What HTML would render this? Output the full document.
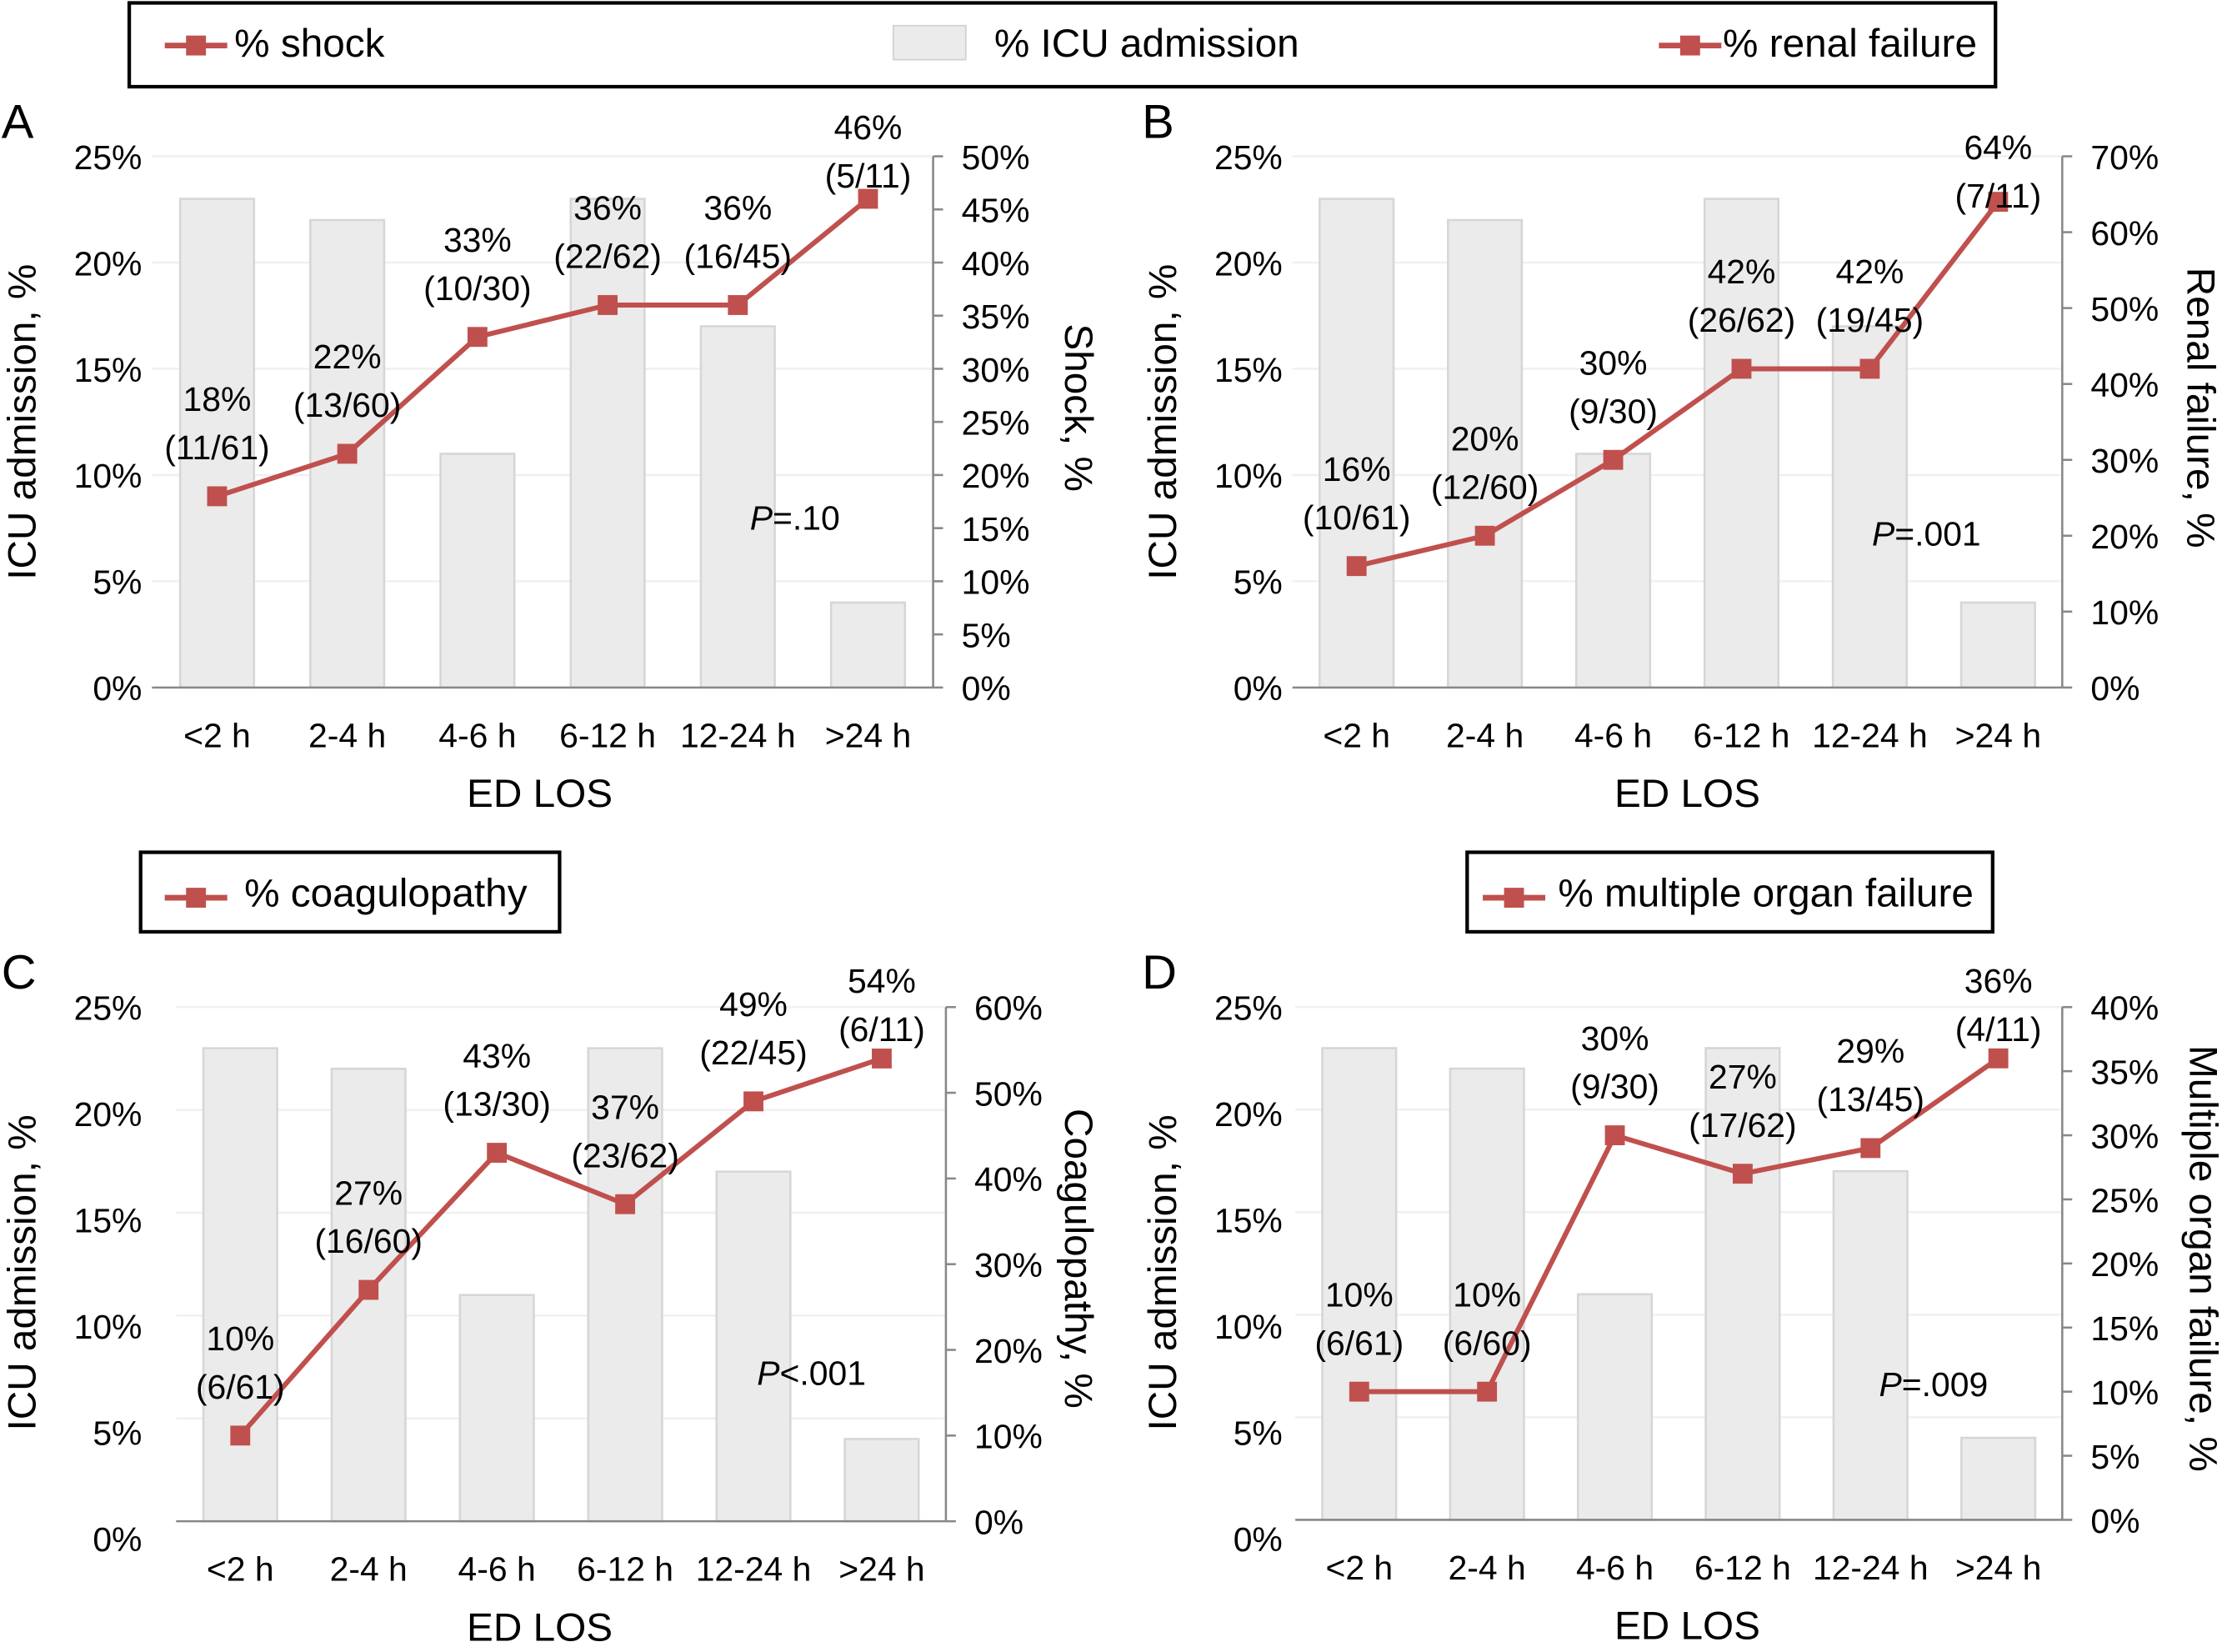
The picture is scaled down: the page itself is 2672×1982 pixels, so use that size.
<!DOCTYPE html>
<html><head><meta charset="utf-8">
<style>
html,body{margin:0;padding:0;background:#fff;}
svg{display:block;font-family:"Liberation Sans",Arial,sans-serif;}
</style></head>
<body>
<svg id="chart" xmlns="http://www.w3.org/2000/svg" width="2672" height="1982" viewBox="0 0 1568 1163">
<g>
<rect x="91" y="2" width="1314" height="59" fill="none" stroke="#000" stroke-width="2.5"/>
<line x1="116" y1="32" x2="160" y2="32" stroke="#c0504d" stroke-width="4"/><rect x="131" y="25" width="14" height="14" fill="#c0504d"/>
<text x="165" y="40" font-size="28">% shock</text>
<rect x="629" y="18" width="51" height="24" fill="#ebebeb" stroke="#d0d0d0"/>
<text x="700" y="40" font-size="28">% ICU admission</text>
<line x1="1168" y1="32" x2="1212" y2="32" stroke="#c0504d" stroke-width="4"/><rect x="1183" y="25" width="14" height="14" fill="#c0504d"/>
<text x="1213" y="40" font-size="28">% renal failure</text>
</g>
<g>
<rect x="99" y="600" width="295" height="56" fill="none" stroke="#000" stroke-width="2.5"/>
<line x1="116" y1="632" x2="160" y2="632" stroke="#c0504d" stroke-width="4"/><rect x="131" y="625" width="14" height="14" fill="#c0504d"/>
<text x="172" y="638" font-size="28">% coagulopathy</text>
</g>
<g>
<rect x="1033" y="600" width="370" height="56" fill="none" stroke="#000" stroke-width="2.5"/>
<line x1="1044" y1="632" x2="1088" y2="632" stroke="#c0504d" stroke-width="4"/><rect x="1059" y="625" width="14" height="14" fill="#c0504d"/>
<text x="1097" y="638" font-size="28">% multiple organ failure</text>
</g>
</svg>
<script>
const categories = ["<2 h","2-4 h","4-6 h","6-12 h","12-24 h",">24 h"];
const icuValues = [23,22,11,23,17,4];
const shockValues = [18,22,33,36,36,46];
const shockFractions = ["(11/61)","(13/60)","(10/30)","(22/62)","(16/45)","(5/11)"];
const renalValues = [16,20,30,42,42,64];
const renalFractions = ["(10/61)","(12/60)","(9/30)","(26/62)","(19/45)","(7/11)"];
const coagValues = [10,27,43,37,49,54];
const coagFractions = ["(6/61)","(16/60)","(13/30)","(23/62)","(22/45)","(6/11)"];
const mofValues = [10,10,30,27,29,36];
const mofFractions = ["(6/61)","(6/60)","(9/30)","(17/62)","(13/45)","(4/11)"];
const leftTicks = [0,5,10,15,20,25];

const NS="http://www.w3.org/2000/svg";
const svg=document.getElementById('chart');
function mk(tag,attrs,parent,text){const e=document.createElementNS(NS,tag);for(const k in attrs)e.setAttribute(k,attrs[k]);if(text!==undefined)e.textContent=text;(parent||svg).appendChild(e);return e;}

const panels=[
 {id:'a',letter:'A',x0:107,x1:657,yb:484,yt:110,lb:484,rb:484,rmax:50,rstep:5,vals:shockValues,fr:shockFractions,rtitle:'Shock, %',rtx:760,p:'=.10',px:528,py:373,los:380,lx:100,ltx:15,top:90},
 {id:'b',letter:'B',x0:910,x1:1452,yb:484,yt:110,lb:484,rb:484,rmax:70,rstep:10,vals:renalValues,fr:renalFractions,rtitle:'Renal failure, %',rtx:1550,p:'=.001',px:1318,py:384,los:1188,lx:903,ltx:818,top:104},
 {id:'c',letter:'C',x0:124,x1:666,yb:1071,yt:709,lb:1083,rb:1071,rmax:60,rstep:10,vals:coagValues,fr:coagFractions,rtitle:'Coagulopathy, %',rtx:760,p:'<.001',px:533,py:975,los:380,lx:100,ltx:15,top:691},
 {id:'d',letter:'D',x0:912,x1:1452,yb:1070,yt:709,lb:1083,rb:1070,rmax:40,rstep:5,vals:mofValues,fr:mofFractions,rtitle:'Multiple organ failure, %',rtx:1552,p:'=.009',px:1323,py:983,los:1188,lx:903,ltx:818,top:691}
];

panels.forEach(P=>{
 const g=mk('g',{});
 
 
 const n=categories.length, w=(P.x1-P.x0)/n;
 const xc=i=>P.x0+(i+0.5)*w;
 const yL=v=>P.yb-v/25*(P.yb-P.yt);
 const yLab=v=>P.lb-v/25*(P.lb-P.yt);
 const yR=v=>P.rb-v/P.rmax*(P.rb-P.yt);
 leftTicks.forEach(t=>{
  if(t>0){const gl=mk('line',{x1:P.x0,x2:P.x1,y1:yL(t),y2:yL(t),stroke:'#f0f0f0','stroke-width':1.5},g);
  
  }
  const tl=mk('text',{x:P.lx,y:yLab(t)+9,'font-size':24,'text-anchor':'end'},g,t+'%');
  
  
 });
 icuValues.forEach((v,i)=>{
  const b=mk('rect',{x:xc(i)-26,y:yL(v),width:52,height:P.yb-yL(v),fill:'#ebebeb',stroke:'#d6d6d6','stroke-width':1.5},g);
  
  
 });
 const xa=mk('line',{x1:P.x0,x2:P.x1,y1:P.yb,y2:P.yb,stroke:'#888','stroke-width':1.5},g);
 
 
 const ra=mk('line',{x1:P.x1,x2:P.x1,y1:P.yt,y2:P.rb,stroke:'#888','stroke-width':1.5},g);
 
 
 for(let t=0;t<=P.rmax;t+=P.rstep){
  mk('line',{x1:P.x1,x2:P.x1+7,y1:yR(t),y2:yR(t),stroke:'#888','stroke-width':1.5},g);
  const rl=mk('text',{x:P.x1+20,y:yR(t)+9,'font-size':24},g,t+'%');
  
  
 }
 categories.forEach((c,i)=>{
  const cl=mk('text',{x:xc(i),y:P.yb+42,'font-size':24,'text-anchor':'middle'},g,c);
  
  
 });
 const pts=P.vals.map((v,i)=>xc(i)+','+yR(v)).join(' ');
 const pl=mk('polyline',{points:pts,fill:'none',stroke:'#c0504d','stroke-width':3.5},g);
 
 
 P.vals.forEach((v,i)=>{
  const m=mk('rect',{x:xc(i)-7,y:yR(v)-7,width:14,height:14,fill:'#c0504d'},g);
  
  
  const c1=Math.max(yR(v)-68,P.top);
  const t1=mk('text',{x:xc(i),y:c1+8,'font-size':24,'text-anchor':'middle'},g,v+'%');
  
  
  const t2=mk('text',{x:xc(i),y:c1+42,'font-size':24,'text-anchor':'middle'},g,P.fr[i]);
  
  
 });
 const cy=(P.yt+P.lb)/2;
 const lt=mk('text',{x:0,y:0,'font-size':28,'text-anchor':'middle',transform:`translate(${P.ltx+10},${cy}) rotate(-90)`},g,'ICU admission, %');
 
 
 const rt=mk('text',{x:0,y:0,'font-size':28,'text-anchor':'middle',transform:`translate(${P.rtx-10},${cy-10}) rotate(90)`},g,P.rtitle);
 
 
 const xt=mk('text',{x:P.los,y:P.yb+84,'font-size':28,'text-anchor':'middle'},g,'ED LOS');
 
 
 const pl2=mk('text',{x:P.px,y:P.py,'font-size':24},g);
 
 
 mk('tspan',{'font-style':'italic'},pl2,'P');
 mk('tspan',{},pl2,P.p);
 const lt2=mk('text',{x:P.id==='a'||P.id==='c'?1:804,y:P.yt-13,'font-size':34},g,P.letter);
 
 
});
</script>
</body></html>
